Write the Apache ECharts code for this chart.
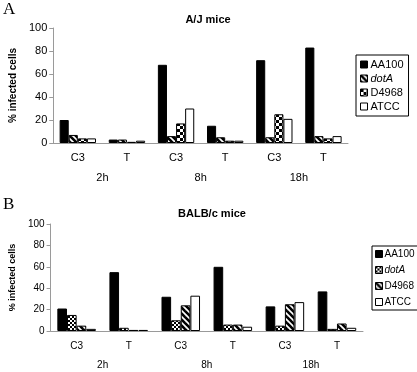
<!DOCTYPE html>
<html>
<head>
<meta charset="utf-8">
<script src="https://cdn.jsdelivr.net/npm/echarts@6/dist/echarts.min.js"></script>
<style>
  html, body { margin: 0; padding: 0; background: #fff; }
  #main { width: 417px; height: 372px; }
</style>
</head>
<body>
<div id="main"></div>
<script>
// 分类
var subCats = ["C3", "T", "C3", "T", "C3", "T"];
var timeCats = ["2h", "8h", "18h"];
var seriesNames = ["AA100", "dotA", "D4968", "ATCC"];

// A/J mice
var ajAA100 = [20, 3, 68, 15, 72, 83];
var ajDotA = [7, 3, 6, 5, 5, 6];
var ajD4968 = [4, 1, 17, 2, 25, 4];
var ajATCC = [4, 2, 30, 2, 21, 6];

// BALB/c mice
var bcAA100 = [21, 55, 32, 60, 23, 37];
var bcDotA = [15, 3, 10, 6, 5, 2];
var bcD4968 = [5, 1, 24, 6, 25, 7];
var bcATCC = [2, 1, 33, 4, 27, 3];

var axisGray = "#9a9a9a";
var font = "Liberation Sans, Arial, sans-serif";

// 斜线填充
function hatch() {
  var c = document.createElement("canvas");
  c.width = c.height = 6;
  var g = c.getContext("2d");
  g.fillStyle = "#fff";
  g.fillRect(0, 0, 6, 6);
  g.strokeStyle = "#000";
  g.lineWidth = 2.6;
  [-6, 0, 6].forEach(function (k) {
    g.beginPath();
    g.moveTo(-1, -1 + k);
    g.lineTo(7, 7 + k);
    g.stroke();
  });
  return { image: c, repeat: "repeat" };
}

// 棋盘格填充
function checker(s) {
  var c = document.createElement("canvas");
  c.width = c.height = s * 2;
  var g = c.getContext("2d");
  g.fillStyle = "#fff";
  g.fillRect(0, 0, s * 2, s * 2);
  g.fillStyle = "#000";
  g.fillRect(0, 0, s, s);
  g.fillRect(s, s, s, s);
  return { image: c, repeat: "repeat" };
}

var fillsA = ["#000", hatch(), checker(3), "#fff"];
var fillsB = ["#000", checker(2), hatch(), "#fff"];

function makeSeries(values, fills, xi, yi) {
  return values.map(function (v, i) {
    return {
      name: seriesNames[i],
      type: "bar",
      xAxisIndex: xi,
      yAxisIndex: yi,
      barGap: 0,
      barCategoryGap: "26%",
      itemStyle: { color: fills[i], borderColor: "#000", borderWidth: 1 },
      data: v,
    };
  });
}

function legendData(fills) {
  return seriesNames.map(function (n, i) {
    return { name: n, itemStyle: { color: fills[i], borderColor: "#000", borderWidth: 1 } };
  });
}

function legendFmt(name) {
  return name === "dotA" ? "{i|dotA}" : name;
}

function xAxes(grid, sub) {
  return [
    {
      type: "category", gridIndex: grid, data: subCats, position: "bottom",
      axisLine: { lineStyle: { color: axisGray } },
      axisTick: { length: sub.len1, interval: 0, lineStyle: { color: axisGray } },
      axisLabel: { margin: sub.m1, color: "#000", fontFamily: font, fontSize: sub.fs, interval: 0 },
    },
    {
      type: "category", gridIndex: grid, data: timeCats, position: "bottom",
      axisLine: { show: false },
      axisTick: { length: sub.len2, interval: 0, lineStyle: { color: axisGray } },
      axisLabel: { margin: sub.m2, color: "#000", fontFamily: font, fontSize: sub.fs, interval: 0 },
    },
  ];
}

function yAxis(grid, fs, gap) {
  return {
    type: "value", gridIndex: grid, min: 0, max: 100, interval: 20,
    name: "% infected cells", nameLocation: "middle", nameGap: gap,
    nameTextStyle: { fontFamily: font, fontSize: fs, fontWeight: "bold", color: "#000" },
    splitLine: { show: false },
    axisLine: { show: true, lineStyle: { color: axisGray } },
    axisTick: { show: true, length: 4, lineStyle: { color: axisGray } },
    axisLabel: { color: "#000", fontFamily: font, fontSize: fs + 1, margin: 6 },
  };
}

var option = {
  animation: false,
  backgroundColor: "#fff",
  title: [
    { text: "A/J mice", left: 203, top: 9, textAlign: "center",
      textStyle: { fontFamily: font, fontSize: 11, fontWeight: "bold", color: "#000" } },
    { text: "BALB/c mice", left: 207, top: 203, textAlign: "center",
      textStyle: { fontFamily: font, fontSize: 11, fontWeight: "bold", color: "#000" } },
  ],
  graphic: [
    { type: "text", left: 3, top: 1, style: { text: "A", font: "17px 'Liberation Serif', serif", fill: "#000" } },
    { type: "text", left: 3, top: 196, style: { text: "B", font: "17px 'Liberation Serif', serif", fill: "#000" } },
  ],
  grid: [
    { left: 49, top: 28, width: 299, height: 115 },
    { left: 41, top: 224, width: 322, height: 107 },
  ],
  legend: [
    {
      data: legendData(fillsA), orient: "vertical", left: 356, top: 55,
      padding: [4, 5, 4, 4], itemGap: 3, itemWidth: 7, itemHeight: 7,
      borderColor: "#000", borderWidth: 1, icon: "rect", selectedMode: false,
      formatter: legendFmt,
      textStyle: { fontFamily: font, fontSize: 11, color: "#000", padding: [0, 0, 0, -2],
        rich: { i: { fontStyle: "italic", fontFamily: font, fontSize: 11 } } },
    },
    {
      data: legendData(fillsB), orient: "vertical", left: 372, top: 246,
      padding: [3, 4, 3, 3], itemGap: 6, itemWidth: 7, itemHeight: 7,
      borderColor: "#000", borderWidth: 1, icon: "rect", selectedMode: false,
      formatter: legendFmt,
      textStyle: { fontFamily: font, fontSize: 10, color: "#000", padding: [0, 0, 0, -3],
        rich: { i: { fontStyle: "italic", fontFamily: font, fontSize: 10 } } },
    },
  ],
  xAxis: xAxes(0, { len1: 20, len2: 40, m1: 9, m2: 29, fs: 11 })
    .concat(xAxes(1, { len1: 19, len2: 41, m1: 10, m2: 29, fs: 10 })),
  yAxis: [yAxis(0, 10, 28), yAxis(1, 9, 24)],
  series: makeSeries([ajAA100, ajDotA, ajD4968, ajATCC], fillsA, 0, 0)
    .concat(makeSeries([bcAA100, bcDotA, bcD4968, bcATCC], fillsB, 2, 1)),
};

var myChart = echarts.init(document.getElementById("main"), null, { renderer: "canvas" });
myChart.setOption(option);
</script>
</body>
</html>
